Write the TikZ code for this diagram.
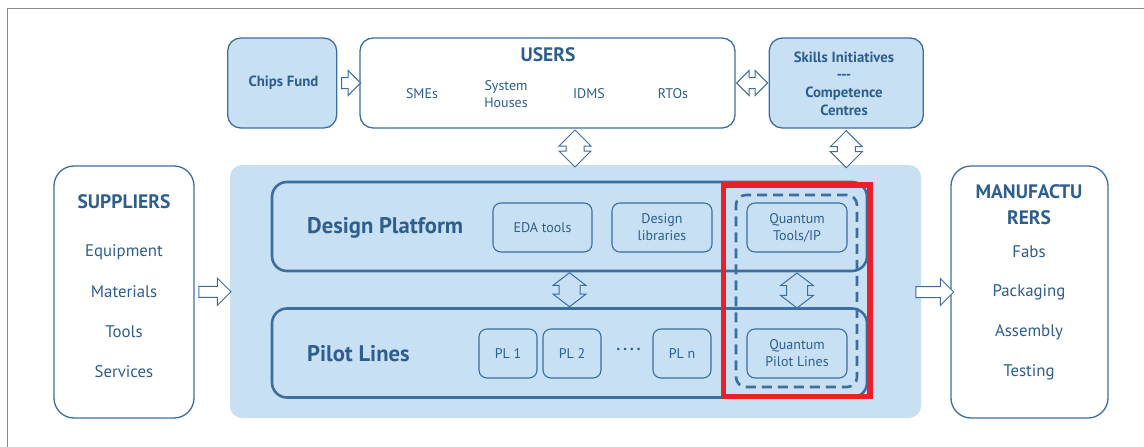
\documentclass[tikz,border=0pt]{standalone}
\usepackage{fontspec}
\setmainfont{PT Sans}
\usetikzlibrary{positioning,shapes.arrows,calc}

\definecolor{boxblue}{HTML}{C8E0F4}
\definecolor{lineblue}{HTML}{3D6E9E}
\definecolor{textblue}{HTML}{2E5E8E}
\definecolor{markred}{HTML}{E8202A}
\definecolor{framegray}{HTML}{8A8A8A}

\begin{document}
\begin{tikzpicture}[x=1pt,y=-1pt,
		lbl/.style  = {text=textblue, inner sep=0pt, align=center, font=\fontsize{14}{17}\selectfont},
		lbig/.style = {lbl, font=\fontsize{16.8}{19}\selectfont},
		ttl/.style  = {lbl, font=\bfseries\fontsize{19.5}{26}\selectfont},
		ttls/.style = {lbl, font=\bfseries\fontsize{14.8}{17.6}\selectfont},
		outer/.style = {draw=lineblue, line width=1.3pt, fill=white, rounded corners=13pt, inner sep=0pt},
		fund/.style  = {outer, fill=boxblue},
		layer/.style = {draw=lineblue, line width=2.6pt, rounded corners=15pt, inner sep=0pt,
		                minimum width=595pt, minimum height=89pt},
		tool/.style  = {lbl, draw=lineblue, line width=1.1pt, rounded corners=8pt,
		                minimum height=49pt},
		harrow/.style = {shape=single arrow, draw=lineblue, line width=1pt, fill=white,
		                 inner xsep=0pt, inner ysep=5pt, single arrow head extend=7pt},
		darrow/.style = {shape=double arrow, draw=lineblue, line width=1pt, fill=white,
		                 inner xsep=0pt, double arrow head extend=7pt}]

	\useasboundingbox (0,0) rectangle (1144,447);
	\draw[framegray, line width=1.5pt] (1144,8.5) -- (7.5,8.5) -- (7.5,447);

	% top row
	\node(b_users)  [outer, minimum width=375pt, minimum height=90pt] at (547.5,83) {};
	\node(b_chips)  [fund, minimum width=109pt, minimum height=90pt, left=22pt of b_users] {};
	\node(b_skills) [fund, minimum width=154pt, minimum height=90pt, right=33pt of b_users] {};

	\node(t_chips) [ttls] at (283.5,83) {Chips Fund};
	\node(t_users) [ttl]  at (548,55)   {USERS};
	\node(t_sme)   [lbl]  at (422,94)   {SMEs};
	\node(t_sys)   [lbl]  at (506,94)   {System\\Houses};
	\node(t_idms)  [lbl]  at (589,94)   {IDMS};
	\node(t_rto)   [lbl]  at (673,94)   {RTOs};
	\node(t_skill) [ttls] at (844,83.5) {Skills Initiatives\\-{}-{}-\\Competence\\Centres};

	% side boxes
	\node(b_panel) [fill=boxblue, rounded corners=12pt, inner sep=0pt,
	                minimum width=691pt, minimum height=253pt] at (575.5,291.5) {};
	\node(b_supp)  [outer, rounded corners=20pt, minimum width=140pt, minimum height=252pt] at (124,292) {};
	\node(b_manu)  [outer, rounded corners=20pt, minimum width=157pt, minimum height=252pt] at (1029.5,292) {};

	\node(t_supp)  [ttl]  at (124,202) {SUPPLIERS};
	\node(t_s1)    [lbig] at (124,252) {Equipment};
	\node(t_s2)    [lbig] at (124,292) {Materials};
	\node(t_s3)    [lbig] at (124,332) {Tools};
	\node(t_s4)    [lbig] at (124,372) {Services};

	\node(t_manu)  [ttl]  at (1029,205) {MANUFACTU\\RERS};
	\node(t_m1)    [lbig] at (1029,252) {Fabs};
	\node(t_m2)    [lbig] at (1029,292) {Packaging};
	\node(t_m3)    [lbig] at (1029,332) {Assembly};
	\node(t_m4)    [lbig] at (1029,372) {Testing};

	% platform layers
	\node(b_dp) [layer] at (569.5,226.5) {};
	\node(b_pl) [layer] at (569.5,353)   {};

	\node(t_dp) [lbl, anchor=west, font=\bfseries\fontsize{22.6}{26}\selectfont] at (307,228) {Design Platform};
	\node(t_pl) [lbl, anchor=west, font=\bfseries\fontsize{22.6}{26}\selectfont] at (307,354) {Pilot Lines};

	\node(b_eda)  [tool, minimum width=99pt]  at (542.5,227.5) {EDA tools};
	\node(b_lib)  [tool, minimum width=100pt] at (662,227.5)   {Design\\libraries};
	\node(b_pl1)  [tool, minimum width=58pt]  at (508,353.5)   {PL 1};
	\node(b_pl2)  [tool, minimum width=58pt]  at (572,353.5)   {PL 2};
	\node(t_dots) [lbl, font=\bfseries\fontsize{16}{17}\selectfont] at (628.5,351) {·\,·\,·\,·};
	\node(b_pln)  [tool, minimum width=58pt]  at (682,353.5)   {PL n};

	\node(b_qbox) [draw=lineblue, line width=2.6pt, dash pattern=on 10pt off 6pt, rounded corners=10pt,
	               inner sep=0pt, minimum width=121pt, minimum height=192pt] at (796.5,291) {};
	\node(b_qtool) [tool, minimum width=100pt] at (797,227.5) {Quantum\\Tools/IP};
	\node(b_qpl)   [tool, minimum width=100pt] at (797,353.5) {Quantum\\Pilot Lines};

	% block arrows
	\node(a_1) [harrow, minimum height=19pt] at ($(b_chips.east)!0.5!(b_users.west)$) {};
	\node(a_2) [darrow, inner ysep=5pt, minimum height=31pt] at ($(b_users.east)!0.5!(b_skills.west)$) {};
	\node(a_3) [darrow, rotate=90, inner ysep=8.5pt, minimum height=37pt] at (575,148.5) {};
	\node(a_4) [darrow, rotate=90, inner ysep=8.5pt, minimum height=37pt] at ($(b_skills.south)+(0,20.5)$) {};
	\node(a_5) [harrow, single arrow head extend=8pt, minimum height=32pt] at ($(b_supp.east)!0.5!(b_panel.west)$) {};
	\node(a_6) [harrow, single arrow head extend=8pt, minimum height=38pt] at (932,292) {};
	\node(a_7) [darrow, rotate=90, fill=boxblue, inner ysep=10pt, double arrow head extend=6pt,
	            double arrow tip angle=105, minimum height=34pt] at ($(b_dp.south)!0.5!(b_pl.north)$) {};
	\node(a_8) [darrow, rotate=90, fill=boxblue, inner ysep=10pt, double arrow head extend=6pt,
	            double arrow tip angle=105, minimum height=35pt] at ($(b_qtool.south)!0.5!(b_qpl.north)$) {};

	% highlight
	\draw[markred, line width=5.5pt] (723.5,185) rectangle (870,396.5);
\end{tikzpicture}
\end{document}
